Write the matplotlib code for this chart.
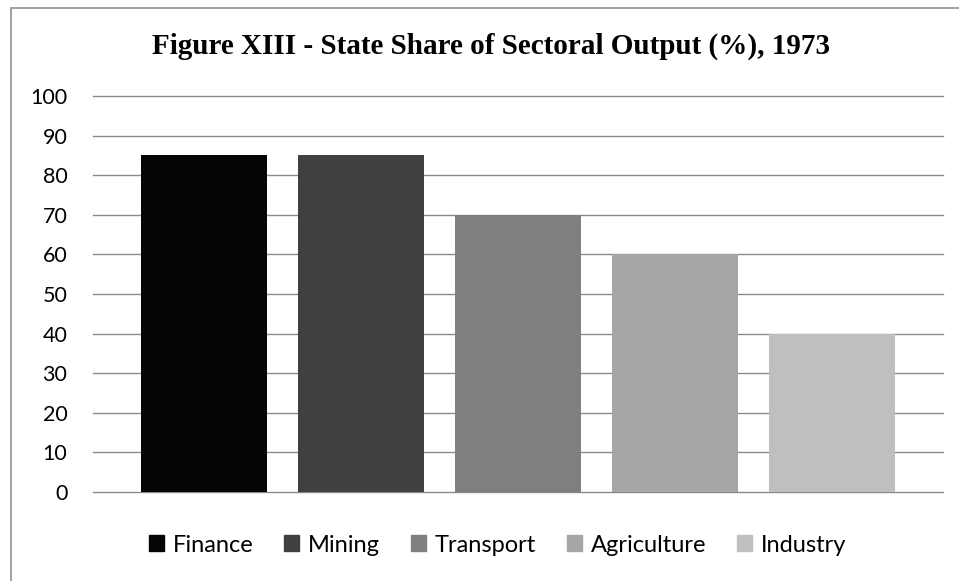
import matplotlib
matplotlib.use("Agg")
import matplotlib.pyplot as plt
from matplotlib.patches import Rectangle

sectors = ["Finance", "Mining", "Transport", "Agriculture", "Industry"]
shares = [85, 85, 70, 60, 40]
colors = ["#050505", "#404040", "#7f7f7f", "#a6a6a6", "#bfbfbf"]
yticks = [0, 10, 20, 30, 40, 50, 60, 70, 80, 90, 100]
title = "Figure XIII - State Share of Sectoral Output (%), 1973"

W, H = 959, 581
fig = plt.figure(figsize=(W / 100, H / 100), dpi=100)

# outer border (right and bottom edges fall outside the image)
fig.patches.append(Rectangle((10.5 / W, -0.05), 1.2, 1.05 - 8 / H, transform=fig.transFigure,
                             fill=False, edgecolor="#9a9a9a", linewidth=1.3))

ax = fig.add_axes([93 / W, 1 - 492 / H, (943 - 93) / W, (492 - 96) / H])
xs = list(range(len(sectors)))
ax.bar(xs, shares, width=0.8, color=colors, zorder=3)
ax.set_xlim(-0.707, 4.707)
ax.set_ylim(0, 100)
ax.set_yticks(yticks)
ax.set_yticklabels([str(v) for v in yticks], fontfamily="Lato", fontsize=15.5)
ax.tick_params(axis="y", length=0, pad=18.5)
ax.set_xticks([])
for s in ax.spines.values():
    s.set_visible(False)
ax.yaxis.grid(True, color="#8a8a8a", linewidth=1.0, zorder=0)
ax.set_axisbelow(True)
for gl in ax.get_ygridlines():
    gl.set_clip_on(False)

fig.text(491 / W, 1 - 46 / H, title, ha="center", va="center",
         fontfamily="Liberation Serif", fontweight="bold", fontsize=21)

handles = [Rectangle((0, 0), 1, 1, color=c) for c in colors]
fig.legend(handles, sectors, loc="center", bbox_to_anchor=(497.5 / W, 1 - 545 / H),
           ncol=5, frameon=False, prop={"family": "Lato", "size": 17},
           handlelength=0.63, handleheight=0.63, handletextpad=0.38,
           columnspacing=1.3, borderpad=0, borderaxespad=0)

fig.savefig("out.png", dpi=100)
